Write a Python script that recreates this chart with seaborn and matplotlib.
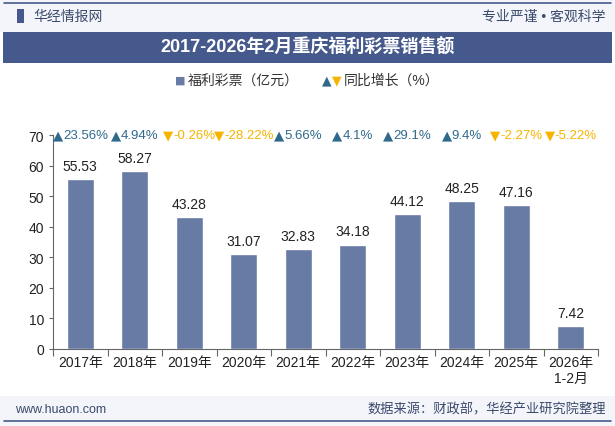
# 2017-2026年2月 重庆福利彩票销售额 柱状图
import numpy as np
import pandas as pd
import seaborn as sns
import matplotlib.pyplot as plt
from matplotlib.patches import Rectangle
from matplotlib.lines import Line2D
from matplotlib.transforms import offset_copy

years = ['2017年', '2018年', '2019年', '2020年', '2021年', '2022年',
         '2023年', '2024年', '2025年', '2026年\n1-2月']
sales = [55.53, 58.27, 43.28, 31.07, 32.83, 34.18, 44.12, 48.25, 47.16, 7.42]
growth = ['23.56%', '4.94%', '-0.26%', '-28.22%', '5.66%', '4.1%',
          '29.1%', '9.4%', '-2.27%', '-5.22%']
growth_up = [True, True, False, False, True, True, True, True, False, False]

sns.set_theme(style='white')
plt.rcParams['font.family'] = ['Liberation Sans', 'Noto Sans CJK SC', 'DejaVu Sans']
plt.rcParams['axes.unicode_minus'] = False

bar_col = '#687ba5'
navy = '#46598c'
up_col = '#2f6a8c'
down_col = '#f5b400'
tri_font = ['DejaVu Sans']

df = pd.DataFrame({'year': years, 'sales': sales})

fig = plt.figure(figsize=(6.15, 4.27), dpi=100)
fig.patch.set_facecolor('white')

# 头部、标题栏、底部
fig.patches.append(Rectangle((0, 1 - 33/427), 1, 33/427, transform=fig.transFigure,
                             facecolor='#f3f5fa', edgecolor='none', zorder=0))
fig.patches.append(Rectangle((3/615, 1 - 64/427), 609/615, 31/427, transform=fig.transFigure,
                             facecolor=navy, edgecolor='none', zorder=1))
fig.patches.append(Rectangle((0, 0), 1, 30/427, transform=fig.transFigure,
                             facecolor='#f3f5fa', edgecolor='none', zorder=0))
fig.lines.append(Line2D([4/615, 611/615], [1 - 4/427] * 2, transform=fig.transFigure,
                        color=navy, lw=1.2))
fig.lines.append(Line2D([4/615, 611/615], [5/427] * 2, transform=fig.transFigure,
                        color=navy, lw=1.2))
fig.patches.append(Rectangle((17/615, 1 - 24/427), 7/615, 14/427, transform=fig.transFigure,
                             facecolor=navy, edgecolor='none'))

fig.text(33/615, 1 - 17/427, '华经情报网', fontsize=10, color='#3b4a6b', va='center')
fig.text(606/615, 1 - 17/427, '专业严谨 • 客观科学', fontsize=10, color='#3b4a6b',
         va='center', ha='right')
fig.text(0.5, 1 - 48/427, '2017-2026年2月重庆福利彩票销售额', fontsize=13,
         color='white', fontweight='bold', ha='center', va='center')
fig.text(15/615, 17/427, 'www.huaon.com', fontsize=9, color='#3b4a6b', va='center')
fig.text(606/615, 17/427, '数据来源：财政部，华经产业研究院整理', fontsize=9.5,
         color='#3b4a6b', va='center', ha='right')

# 图例
ly = 1 - 81/427
fig.text(185/615, ly, '■', fontsize=8, color=bar_col, va='center', ha='right',
         family=tri_font)
fig.text(188/615, ly, '福利彩票（亿元）', fontsize=10, color='#333333', va='center')
fig.text(322/615, ly, '▲', fontsize=9, color=up_col, va='center', family=tri_font)
fig.text(332/615, ly, '▼', fontsize=9, color=down_col, va='center', family=tri_font)
fig.text(344/615, ly, '同比增长（%）', fontsize=10, color='#333333', va='center')

ax = fig.add_axes([53/615, 77/427, 545/615, 214/427])
sns.barplot(data=df, x='year', y='sales', color=bar_col, width=0.5,
            saturation=1, ax=ax, zorder=3)
ax.set_xlim(-0.5, len(years) - 0.5)
ax.set_ylim(0, 70)
ax.set_yticks(range(0, 71, 10))
ax.set_xlabel('')
ax.set_ylabel('')
ax.tick_params(axis='y', labelsize=10, colors='#222222', length=3, left=True, width=0.8)
ax.tick_params(axis='x', labelsize=10, colors='#222222', length=0, pad=4)
ax.set_xticks(range(len(years)))
ax.set_xticklabels(years)
ax.set_xticks(np.arange(-0.5, len(years), 1), minor=True)
ax.tick_params(axis='x', which='minor', length=5, bottom=True, width=0.8, color='#666666')
ax.tick_params(axis='y', color='#666666')
for s in ['top', 'right']:
    ax.spines[s].set_visible(False)
for s in ['left', 'bottom']:
    ax.spines[s].set_color('#666666')
    ax.spines[s].set_linewidth(0.8)
ax.set_facecolor('none')

for i, v in enumerate(sales):
    ax.text(i, v + 2, f'{v:.2f}', ha='center', va='bottom', fontsize=10, color='#222222')

# 同比增长：三角 + 数字，整体居中于柱子上方
fig.canvas.draw()
renderer = fig.canvas.get_renderer()
for i, (g, up) in enumerate(zip(growth, growth_up)):
    c = up_col if up else down_col
    mark = '▲' if up else '▼'
    t1 = ax.text(i, 70, mark, ha='left', va='center', fontsize=9.5, color=c,
                 family=tri_font, clip_on=False)
    t2 = ax.text(i, 70, g, ha='left', va='center', fontsize=9.5, color=c, clip_on=False)
    w1 = t1.get_window_extent(renderer).width
    w2 = t2.get_window_extent(renderer).width
    tot = w1 + w2
    t1.set_transform(offset_copy(ax.transData, fig=fig, x=-tot / 2, y=0, units='dots'))
    t2.set_transform(offset_copy(ax.transData, fig=fig, x=-tot / 2 + w1, y=0, units='dots'))

fig.savefig('out.png', dpi=100)
